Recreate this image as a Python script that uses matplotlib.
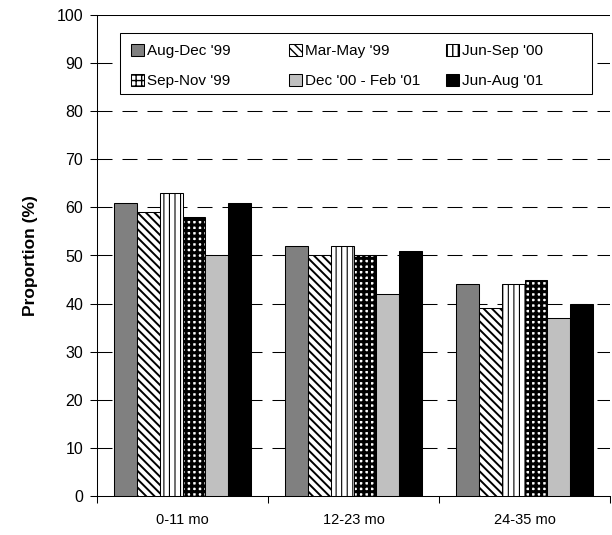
import matplotlib

matplotlib.use("Agg")
import matplotlib.pyplot as plt
import numpy as np
from matplotlib.legend import Legend
from matplotlib.patches import Rectangle

# data
categories = ["0-11 mo", "12-23 mo", "24-35 mo"]
series_names = ["Aug-Dec '99", "Mar-May '99", "Jun-Sep '00",
                "Sep-Nov '99", "Dec '00 - Feb '01", "Jun-Aug '01"]
aug_dec_99 = [61, 52, 44]
mar_may_99 = [59, 50, 39]
jun_sep_00 = [63, 52, 44]
sep_nov_99 = [58, 50, 45]
dec00_feb01 = [50, 42, 37]
jun_aug_01 = [61, 51, 40]
y_ticks = list(range(0, 101, 10))

series_values = [aug_dec_99, mar_may_99, jun_sep_00,
                 sep_nov_99, dec00_feb01, jun_aug_01]
# facecolor, hatch, hatch linewidth
styles = [
    ("#808080", None, 1.0),
    ("white", "\\\\\\\\", 1.4),
    ("white", "|||", 0.8),
    ("white", "+++", 2.2),
    ("#c0c0c0", None, 1.0),
    ("black", None, 1.0),
]

plt.rcParams["font.family"] = ["Liberation Sans", "DejaVu Sans"]

fig = plt.figure(figsize=(6.12, 5.35), dpi=100)
ax = fig.add_axes([97 / 612, 39 / 535, 513 / 612, 481 / 535])

x = np.arange(len(categories))
width = 0.1345
handles = []
for k, (name, vals) in enumerate(zip(series_names, series_values)):
    face, hatch, hlw = styles[k]
    bars = ax.bar(x + (k - 2.5) * width, vals, width, color=face,
                  edgecolor="black", linewidth=0.75, hatch=hatch,
                  label=name, zorder=3)
    for b in bars:
        b.set_hatch_linewidth(hlw)
    handles.append(bars)

# dashed gridlines, solid line at 100
for yv in y_ticks[1:-1]:
    ax.axhline(yv, color="black", linewidth=0.75,
               linestyle=(0, (14.4, 9.6)), zorder=1)
ax.axhline(100, color="black", linewidth=0.75, zorder=1)

ax.set_xlim(-0.5, 2.5)
ax.set_ylim(0, 100)
ax.set_yticks(y_ticks)
ax.tick_params(axis="y", direction="out", length=5, width=0.75,
               labelsize=11.5, pad=5)

ax.set_xticks([-0.5, 0.5, 1.5, 2.5])
ax.set_xticklabels([])
ax.set_xticks(x, minor=True)
ax.set_xticklabels(categories, minor=True)
ax.tick_params(axis="x", which="major", direction="out", length=5, width=0.75)
ax.tick_params(axis="x", which="minor", length=0, labelsize=10.5, pad=12)

for side in ["top", "right"]:
    ax.spines[side].set_visible(False)
for side in ["left", "bottom"]:
    ax.spines[side].set_linewidth(0.75)

ax.set_ylabel("Proportion (%)", fontsize=12.5, fontweight="bold")
ax.yaxis.set_label_coords(-0.115, 0.5)

# legend: fixed-width columns like the original, one small legend per column
frame = Rectangle((0.0448, 0.8358), 0.9202, 0.1268, transform=ax.transAxes,
                  facecolor="white", edgecolor="black", linewidth=0.75,
                  zorder=4)
ax.add_patch(frame)
col_x = [0.0663, 0.374, 0.680]
for c, cx in enumerate(col_x):
    leg = Legend(ax, [handles[c], handles[c + 3]],
                 [series_names[c], series_names[c + 3]],
                 loc="upper left", bbox_to_anchor=(cx, 0.940),
                 bbox_transform=ax.transAxes, frameon=False, fontsize=11,
                 borderpad=0, borderaxespad=0, handlelength=0.85,
                 handleheight=0.85, handletextpad=0.2, labelspacing=1.0)
    leg.set_zorder(5)
    ax.add_artist(leg)

fig.savefig("out.png", dpi=100)
